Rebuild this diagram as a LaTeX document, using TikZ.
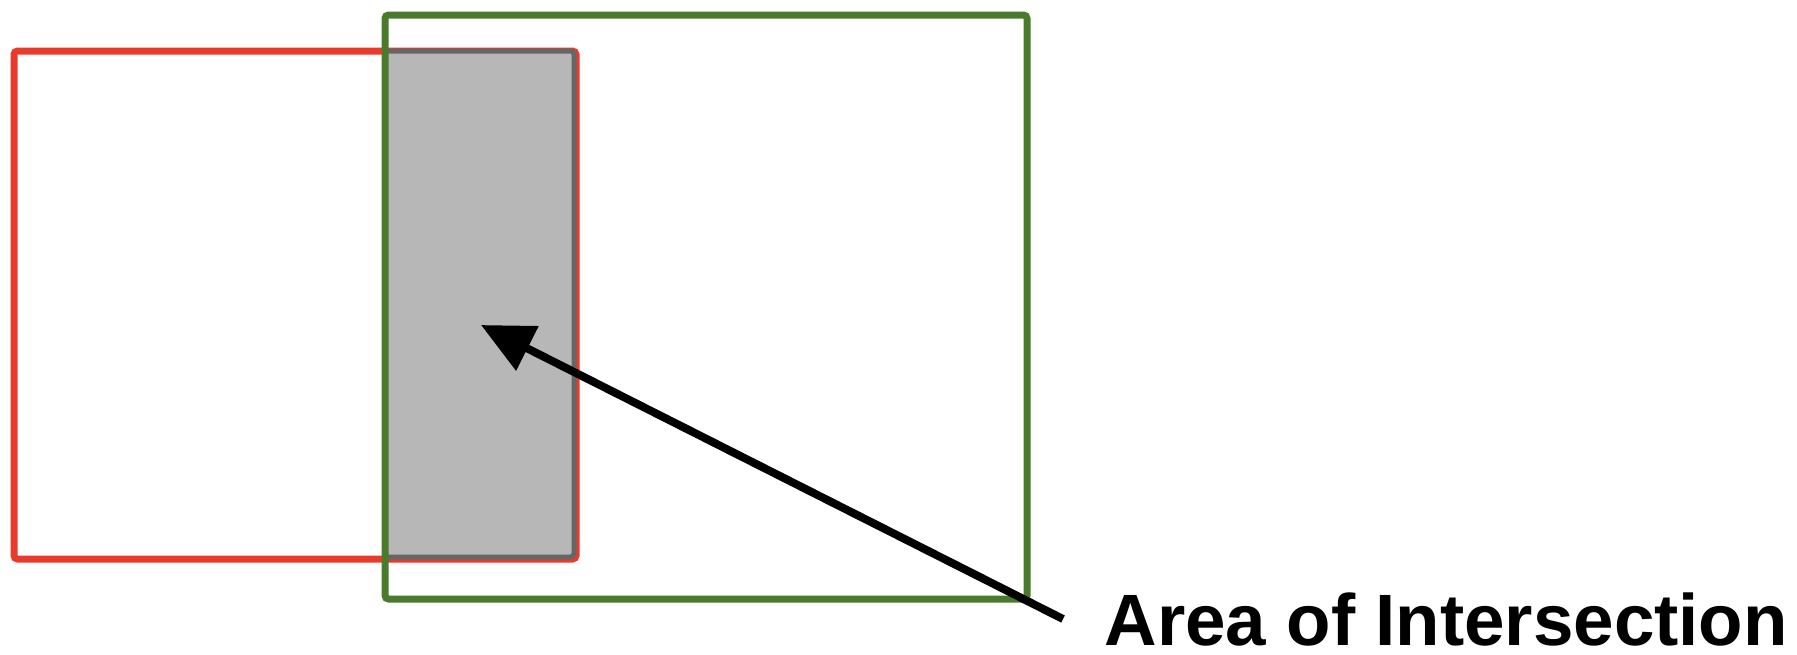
\documentclass[tikz,border=0pt]{standalone}
\usepackage{fontspec}
\setmainfont{Liberation Sans}
\usepackage{tikz}
\usetikzlibrary{positioning,arrows.meta,calc}
\definecolor{ovred}{HTML}{EA3A2B}
\definecolor{ovgreen}{HTML}{4A7A2C}
\definecolor{ovfill}{HTML}{B7B7B7}
\definecolor{ovedge}{HTML}{666666}
\tikzset{
  box/.style={draw,rounded corners=1pt,line width=0.7mm,inner sep=0pt,outer sep=0pt},
  redbox/.style={box,draw=ovred},
  greenbox/.style={box,draw=ovgreen},
  overlapbox/.style={box,draw=ovedge,fill=ovfill,line width=0.5mm},
  caption/.style={font=\fontsize{20.7}{24}\selectfont\bfseries,inner sep=0pt,anchor=base west},
  pointer/.style={-{Triangle[length=5.2mm,width=4.8mm]},line width=0.8mm,draw=black},
}
\begin{document}
\begin{tikzpicture}[x=0.1mm,y=-0.1mm]
  \useasboundingbox (0,0) rectangle (1797,654);
  \node[redbox,minimum width=56.2mm,minimum height=50.8mm] (left) at (295,305) {};
  \node[overlapbox,minimum width=18.9mm,minimum height=50.6mm] (overlap) at (479.5,304) {};
  \node[greenbox,minimum width=64.2mm,minimum height=58.4mm] (right) at (706,307) {};
  \node[caption] (label) at (1104,645) {Area of Intersection};
  \coordinate (tip) at (481,325);
  \draw[pointer] ([xshift=-4.1mm]label.west) -- (tip);
\end{tikzpicture}
\end{document}
